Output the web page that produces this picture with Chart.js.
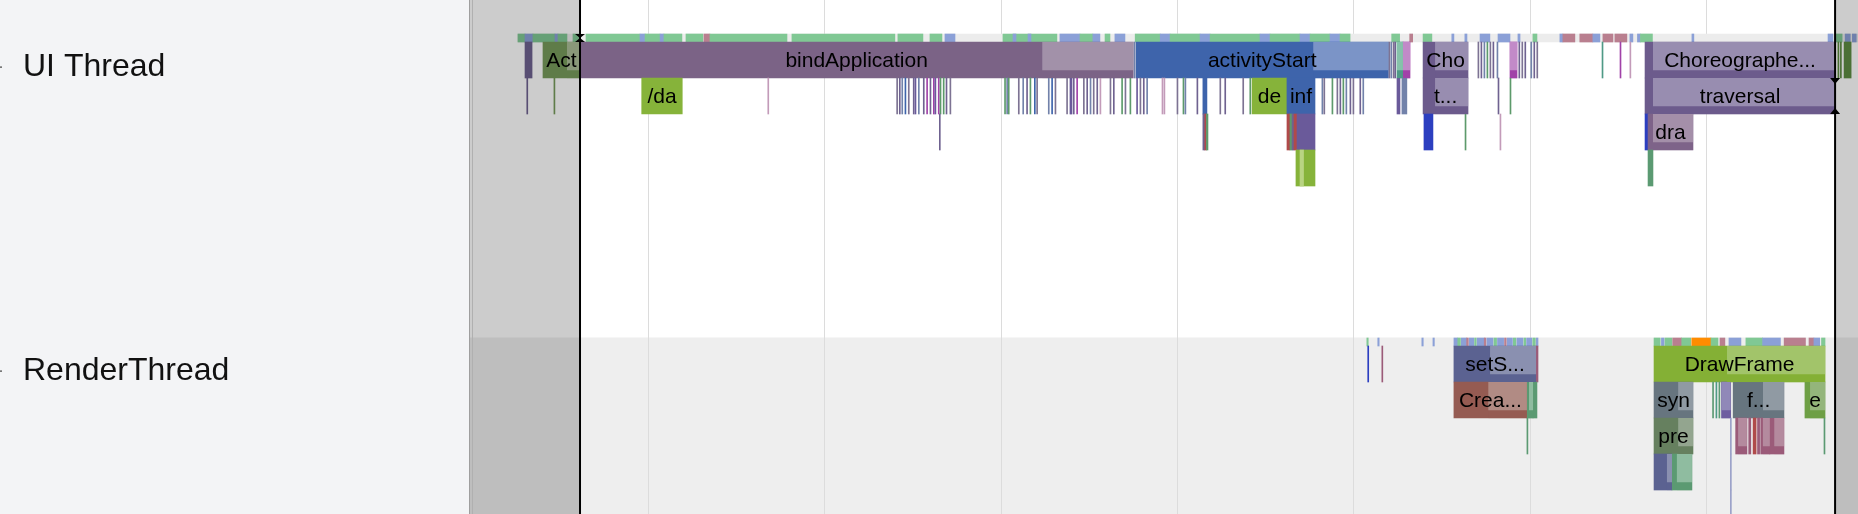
<!DOCTYPE html>
<html>
<head>
<meta charset="utf-8">
<script src="https://cdn.jsdelivr.net/npm/chart.js@4.4.1/dist/chart.umd.min.js"></script>
<style>
html,body{margin:0;padding:0;background:#ffffff;}
#wrap{width:1858px;height:514px;position:relative;}
</style>
</head>
<body>
<div id="wrap"><canvas id="c"></canvas></div>
<script>
// ---------------- DATA (time units; one grid step = 100) ----------------
const trackNames = ['UI Thread', 'RenderThread'];
const gridTimes = [0, 100, 200, 300, 400, 500, 600, 700];
const timeRange = [-1.3, 786.0];
const selection = [61.1, 773.0];

// scheduling strip of each thread: [start, end, colourKey]
const uiStrip = [
  [25.9, 786.0, 'sg'],
  [25.9, 29.9, 'g'], [29.9, 34.4, 'b'], [34.4, 46.9, 'g'], [46.9, 48.6, 'b'], [48.6, 53.7, 'g'], [57.1, 60.5, 'g'],
  [64.5, 95.1, 'g'], [95.1, 98.0, 'b'], [98.0, 106.5, 'g'], [106.5, 108.7, 'b'], [108.7, 118.9, 'g'],
  [121.2, 130.8, 'g'], [131.4, 134.8, 'p'], [134.8, 178.5, 'g'],
  [181.3, 239.7, 'g'], [241.4, 255.6, 'g'], [259.6, 266.4, 'g'], [268.1, 273.8, 'b'],
  [301.0, 331.6, 'g'], [306.7, 308.4, 'b'], [315.2, 316.9, 'b'], [333.3, 344.7, 'b'], [344.7, 352.0, 'g'],
  [352.0, 356.0, 'b'], [358.9, 361.7, 'g'], [364.5, 370.2, 'b'],
  [376.0, 390.2, 'g'], [390.2, 395.8, 'b'], [395.8, 412.8, 'g'], [412.8, 418.5, 'b'], [418.5, 446.8, 'g'],
  [446.8, 452.5, 'b'], [452.5, 469.5, 'g'], [469.5, 475.2, 'b'], [475.2, 486.5, 'g'], [486.5, 492.2, 'b'], [492.2, 497.9, 'g'],
  [521.5, 526.0, 'g'], [531.7, 533.4, 'p'], [539.3, 544.3, 'g'], [555.6, 556.8, 'b'], [563.0, 564.2, 'b'],
  [571.6, 577.2, 'b'], [581.8, 588.6, 'b'], [593.1, 594.3, 'b'], [601.6, 603.9, 'g'],
  [616.9, 618.6, 'b'], [618.6, 625.4, 'p'], [628.2, 635.6, 'p'], [635.6, 639.6, 'b'], [641.3, 647.0, 'p'],
  [648.1, 654.9, 'p'], [656.6, 658.3, 'b'], [660.9, 662.6, 'b'], [662.6, 669.4, 'g'], [691.8, 692.9, 'b'],
  [769.0, 771.8, 'b'], [773.0, 777.0, 'g'], [778.7, 781.6, 'b'], [782.8, 785.0, 'b']
];
const rtStrip = [
  [507.4, 508.2, 'g'], [513.6, 514.4, 'b'], [538.6, 539.4, 'b'], [544.9, 545.7, 'b'],
  [556.8, 559.0, 'b'], [559.0, 560.5, 'g'], [561.0, 564.0, 'b'], [564.0, 565.0, 'p'], [565.5, 568.0, 'b'],
  [568.5, 569.5, 'g'], [570.0, 574.0, 'b'], [574.0, 575.0, 'p'], [575.5, 579.0, 'b'], [579.5, 581.0, 'g'],
  [581.5, 585.0, 'b'], [585.5, 586.5, 'p'], [587.0, 590.0, 'b'], [590.5, 592.0, 'g'], [592.5, 596.0, 'b'],
  [596.5, 597.5, 'g'], [598.0, 601.0, 'b'], [601.5, 603.0, 'g'], [603.5, 604.5, 'b'],
  [670.3, 673.8, 'g'], [674.5, 676.0, 'b'], [676.5, 680.5, 'g'], [680.9, 686.0, 'p'], [686.0, 691.1, 'g'],
  [691.7, 702.6, 'o'], [702.6, 706.6, 'g'], [707.7, 710.5, 'p'], [712.8, 719.6, 'b'], [722.4, 731.9, 'g'],
  [731.9, 742.0, 'b'], [744.1, 756.2, 'p'], [758.2, 761.0, 'p'], [761.0, 764.3, 'b'], [765.3, 767.3, 'g']
];

// slices: [start, end, depth, colourKey, lightFrom (or null), label]
const uiSlices = [
  [29.9, 33.9, 0, 'pu', null, ''],
  [40.1, 61.1, 0, 'act', 53.7, 'Act'],
  [61.1, 374.9, 0, 'bind', 323.3, 'bindApplication'],
  [376.5, 519.6, 0, 'blue', 477.0, 'activityStart'],
  [524.5, 527.9, 0, 'teal', 524.5, ''],
  [527.9, 531.9, 0, 'mag', 527.9, ''],
  [539.3, 564.8, 0, 'chor', 546.1, 'Cho'],
  [588.6, 592.6, 0, 'mag', 588.6, ''],
  [665.2, 773.0, 0, 'chor', 669.7, 'Choreographe...'],
  [778.1, 782.1, 0, 'dgreen', null, ''],
  [96.1, 119.1, 1, 'lime', null, '/da'],
  [414.4, 416.7, 1, 'blue', null, ''],
  [442.3, 462.1, 1, 'lime', null, 'de'],
  [462.1, 478.0, 1, 'blue', null, 'inf'],
  [524.5, 526.2, 1, 'violet', null, ''],
  [527.3, 530.1, 1, 'gblue', null, ''],
  [539.3, 564.8, 1, 'chor', 546.1, 't...'],
  [665.2, 773.0, 1, 'chor', 669.7, 'traversal'],
  [414.4, 415.5, 2, 'pu', null, ''],
  [415.5, 416.4, 2, 'red', null, ''],
  [416.4, 417.3, 2, 'green', null, ''],
  [462.1, 463.8, 2, 'red', null, ''],
  [463.8, 465.0, 2, 'green', null, ''],
  [465.0, 466.1, 2, 'pu', null, ''],
  [466.1, 467.8, 2, 'red', null, ''],
  [467.8, 478.0, 2, 'violet', null, ''],
  [539.8, 544.9, 2, 'bblue', null, ''],
  [665.2, 666.9, 2, 'bblue', null, ''],
  [666.9, 692.4, 2, 'dra', 669.7, 'dra'],
  [467.2, 478.0, 3, 'lime', null, ''],
  [469.5, 471.5, 3, 'limeL', null, ''],
  [666.9, 669.7, 3, 'sgreen', null, '']
];
const rtSlices = [
  [556.8, 603.4, 0, 'sets', 577.3, 'setS...'],
  [603.4, 604.5, 0, 'rose', null, ''],
  [670.3, 767.3, 0, 'draw', 711.7, 'DrawFrame'],
  [556.8, 598.2, 1, 'crea', 576.3, 'Crea...'],
  [598.2, 599.4, 1, 'sgreen', null, ''],
  [599.4, 601.7, 1, 'sgreen', 599.4, ''],
  [601.7, 603.9, 1, 'sgreen', null, ''],
  [670.3, 692.4, 1, 'syn', 684.0, 'syn'],
  [708.6, 713.8, 1, 'violet2', 708.6, ''],
  [715.2, 744.0, 1, 'syn', 732.1, 'f...'],
  [755.9, 767.3, 1, 'egreen', 758.8, 'e'],
  [670.3, 692.4, 2, 'pre', 684.0, 'pre'],
  [716.6, 723.0, 2, 'rose', 718.0, ''],
  [724.0, 725.2, 2, 'rose', null, ''],
  [726.5, 728.2, 2, 'red', null, ''],
  [729.0, 730.2, 2, 'rose', null, ''],
  [730.8, 736.0, 2, 'rose', 732.0, ''],
  [736.0, 744.0, 2, 'rose', 738.5, ''],
  [670.3, 680.5, 3, 'sets', 677.6, ''],
  [680.5, 691.8, 3, 'sgreen', 683.2, '']
];

// very short slices: [time, depth, colourKey]
const uiThin = [
  [375.4, 0, 'gblue'], [519.9, 0, 'gpurple'], [521.0, 0, 'gblue'], [522.3, 0, 'gpurple'], [523.2, 0, 'pu'],
  [570.4, 0, 'gpurple'], [572.1, 0, 'pu'], [573.8, 0, 'gblue'], [575.5, 0, 'green'], [577.2, 0, 'gpurple'],
  [578.9, 0, 'pu'], [581.2, 0, 'gblue'], [593.6, 0, 'pu'], [595.3, 0, 'gpurple'], [597.0, 0, 'pu'],
  [600.4, 0, 'gblue'], [602.1, 0, 'pu'], [603.8, 0, 'gpurple'], [640.8, 0, 'teal'], [651.0, 0, 'mag'],
  [656.6, 0, 'pink'], [774.6, 0, 'dgreen'], [776.0, 0, 'dgreen'],
  [30.9, 1, 'pu'], [46.3, 1, 'act'], [167.6, 1, 'pink'],
  [240.7, 1, 'gpurple'], [242.2, 1, 'pu'], [243.6, 1, 'gblue'], [245.4, 1, 'blue'], [247.3, 1, 'gpurple'],
  [250.1, 1, 'pu'], [251.1, 1, 'violet'], [253.0, 1, 'gblue'], [255.8, 1, 'pu'], [257.7, 1, 'mag'],
  [259.6, 1, 'pu'], [261.5, 1, 'mag'], [262.4, 1, 'violet'], [264.3, 1, 'mag'], [265.3, 1, 'green'],
  [267.1, 1, 'green'], [268.7, 1, 'pu'], [270.9, 1, 'gpurple'],
  [301.9, 1, 'green'], [303.1, 1, 'gblue'], [304.0, 1, 'green'], [309.7, 1, 'gpurple'], [312.2, 1, 'gblue'],
  [314.4, 1, 'pu'], [316.3, 1, 'green'], [318.8, 1, 'blue'], [320.1, 1, 'gpurple'], [326.7, 1, 'gblue'],
  [328.6, 1, 'blue'], [330.5, 1, 'gpurple'], [337.1, 1, 'gpurple'], [339.0, 1, 'violet'], [339.6, 1, 'violet'],
  [340.9, 1, 'pu'], [342.8, 1, 'mag'], [346.6, 1, 'gpurple'], [348.5, 1, 'pu'], [350.4, 1, 'gblue'],
  [352.2, 1, 'gpurple'], [354.2, 1, 'pu'], [356.0, 1, 'pink'], [361.7, 1, 'gpurple'], [363.6, 1, 'pu'],
  [368.3, 1, 'green'], [370.2, 1, 'gpurple'], [373.0, 1, 'green'], [376.8, 1, 'violet'], [378.7, 1, 'gpurple'],
  [380.6, 1, 'pu'], [382.5, 1, 'gblue'],
  [391.2, 1, 'pink'], [392.3, 1, 'pink'], [399.7, 1, 'gpurple'], [403.1, 1, 'green'], [404.2, 1, 'gblue'],
  [411.0, 1, 'pu'], [424.0, 1, 'gpurple'], [426.8, 1, 'pu'], [437.0, 1, 'gpurple'], [441.0, 1, 'green'],
  [481.9, 1, 'gblue'], [483.0, 1, 'gpurple'], [487.6, 1, 'green'], [490.4, 1, 'gpurple'], [492.1, 1, 'pu'],
  [493.8, 1, 'green'], [495.5, 1, 'gblue'], [497.8, 1, 'pu'], [499.5, 1, 'gpurple'], [503.4, 1, 'pu'],
  [505.1, 1, 'gblue'], [581.8, 1, 'pu'], [588.6, 1, 'green'],
  [264.9, 2, 'pu'], [563.1, 2, 'green'], [582.9, 2, 'pink']
];
const rtThin = [
  [507.9, 0, 'bblue'], [515.9, 0, 'rose'],
  [703.5, 1, 'sgreen'], [705.4, 1, 'teal'], [707.1, 1, 'sgreen'],
  [598.2, 2, 'sgreen'], [713.6, 2, 'lblue'], [766.7, 2, 'sgreen'],
  [713.6, 3, 'lblue'], [713.6, 4, 'lblue']
];

// ---------------- STYLE ----------------
const palette = {
  sg: ['#ececec'], g: ['#80c894'], b: ['#8ba0d7'], p: ['#b97f8f'], o: ['#ff8c00'],
  bind: ['#7b6386', '#a291a9'], act: ['#779b5c', '#acbf98'], blue: ['#3e64ab', '#7b94c7'],
  lime: ['#86b33a'], limeL: ['#b8d482'], chor: ['#6c5b8c', '#988db0'], dra: ['#7e6389', '#a48fa9'],
  pu: ['#6f6290'], mag: ['#a142a8', '#c28ac8'], teal: ['#4f9a86', '#86c2aa'], bblue: ['#2c3fc0'],
  red: ['#b04a4a'], green: ['#5d9a6b'], violet: ['#6a5a9a'], violet2: ['#6e5ea0', '#9088b8'],
  pink: ['#c39bb9'], gpurple: ['#7d7393'], gblue: ['#7282aa'], dgreen: ['#5e8c43'],
  sets: ['#5b6291', '#8a90b0'], crea: ['#955b52', '#b18b84'], draw: ['#84b035', '#a2c46a'],
  syn: ['#67757f', '#909aa3'], egreen: ['#6e9f45', '#94b57b'], pre: ['#66805f', '#93a58f'],
  sgreen: ['#5b9a72', '#8fbca0'], rose: ['#9b5b79', '#b48a9e'], lblue: ['#9aa0c8']
};
const S = {
  font: '"Liberation Sans", Arial, sans-serif',
  rowH: 36, stripH: 8, band: 8, thin: 0.55,
  yMax: 514, trackTop: [34, 338], labelDy: 33,
  panelW: 470, padL: 23, trackFont: 32, sliceFont: 21,
  panelBg: '#f3f4f6', uiBg: '#ffffff', rtBg: '#eeeeee', grid: '#dcdcdc'
};
const stripY = tr => S.trackTop[tr] + S.stripH / 2;
const rowY = (tr, d) => S.trackTop[tr] + S.stripH + d * S.rowH + S.rowH / 2;
const labelY = trackNames.map((n, tr) => S.trackTop[tr] + S.labelDy);

const tracks = [
  {strip: uiStrip, slices: uiSlices, thin: uiThin},
  {strip: rtStrip, slices: rtSlices, thin: rtThin}
];
const stripData = [], baseData = [], lightData = [];
tracks.forEach((tk, tr) => {
  tk.strip.forEach(([s, e, c]) => stripData.push({x: [s, e], y: stripY(tr), c: palette[c][0]}));
  tk.slices.forEach(([s, e, d, c, lf, label]) => {
    baseData.push({x: [s, e], y: rowY(tr, d), c: palette[c][0], label});
    if (lf !== null) lightData.push({x: [lf, e], y: rowY(tr, d), c: palette[c][1], b: palette[c][0]});
  });
  tk.thin.forEach(([t, d, c]) => baseData.push({x: [t, t + S.thin], y: rowY(tr, d), c: palette[c][0], label: ''}));
});

const col = key => ctx => (ctx.raw ? ctx.raw[key] : '#000');

const decor = {
  id: 'decor',
  beforeDraw(chart) {
    const {ctx, chartArea: a, scales: {y}} = chart;
    ctx.save();
    ctx.fillStyle = S.panelBg;
    ctx.fillRect(0, 0, a.left, chart.height);
    const split = y.getPixelForValue(S.trackTop[1] - 0.5);
    ctx.fillStyle = S.uiBg;
    ctx.fillRect(a.left, a.top, a.right - a.left, split - a.top);
    ctx.fillStyle = S.rtBg;
    ctx.fillRect(a.left, split, a.right - a.left, a.bottom - split);
    // collapsed-track chevron stubs at the far left edge
    ctx.fillStyle = '#444';
    labelY.forEach(v => ctx.fillRect(0, y.getPixelForValue(v) - 0.5, 2, 1.2));
    ctx.restore();
  },
  afterDatasetsDraw(chart) {
    const {ctx, chartArea: a, scales: {x, y}} = chart;
    // slice labels
    const meta = chart.getDatasetMeta(1);
    const ds = chart.data.datasets[1].data;
    ctx.save();
    ctx.font = S.sliceFont + 'px ' + S.font;
    ctx.fillStyle = '#000';
    ctx.textAlign = 'center';
    ctx.textBaseline = 'middle';
    meta.data.forEach((el, i) => {
      const raw = ds[i];
      if (!raw.label) return;
      const p = el.getProps(['x', 'base', 'y', 'height'], true);
      const l = Math.min(p.x, p.base), r = Math.max(p.x, p.base);
      ctx.save();
      ctx.beginPath();
      ctx.rect(l, p.y - p.height / 2, r - l, p.height);
      ctx.clip();
      ctx.fillText(raw.label, (l + r) / 2, p.y + 1);
      ctx.restore();
    });
    ctx.restore();

    // area outside the selected time range
    const s0 = x.getPixelForValue(selection[0]);
    const s1 = x.getPixelForValue(selection[1]);
    ctx.save();
    ctx.fillStyle = 'rgba(0,0,0,0.2)';
    ctx.fillRect(a.left, a.top, s0 - a.left, a.bottom - a.top);
    ctx.fillRect(s1, a.top, a.right - s1, a.bottom - a.top);
    ctx.fillStyle = '#000';
    ctx.fillRect(s0 - 1, a.top, 2, a.bottom - a.top);
    ctx.fillRect(s1 - 1, a.top, 2, a.bottom - a.top);
    // markers
    const st = y.getPixelForValue(S.trackTop[0]);
    const sb = y.getPixelForValue(S.trackTop[0] + S.stripH);
    const sm = (st + sb) / 2;
    ctx.beginPath();
    ctx.moveTo(s0 - 5, st); ctx.lineTo(s0 + 5, st); ctx.lineTo(s0, sm); ctx.closePath();
    ctx.moveTo(s0 - 5, sb); ctx.lineTo(s0 + 5, sb); ctx.lineTo(s0, sm); ctx.closePath();
    ctx.fill();
    const r1t = y.getPixelForValue(rowY(0, 1) - S.rowH / 2);
    const r1b = y.getPixelForValue(rowY(0, 1) + S.rowH / 2);
    ctx.beginPath();
    ctx.moveTo(s1 - 5, r1t); ctx.lineTo(s1 + 5, r1t); ctx.lineTo(s1, r1t + 6); ctx.closePath();
    ctx.moveTo(s1 - 5, r1b); ctx.lineTo(s1 + 5, r1b); ctx.lineTo(s1, r1b - 6); ctx.closePath();
    ctx.fill();
    // panel edge
    ctx.fillStyle = '#9e9e9e';
    ctx.fillRect(a.left - 1, 0, 1, chart.height);
    ctx.restore();
  }
};

new Chart(document.getElementById('c'), {
  type: 'bar',
  data: {
    datasets: [
      {data: stripData, barThickness: S.stripH, backgroundColor: col('c'), order: 2},
      {data: baseData, barThickness: S.rowH, backgroundColor: col('c'), order: 1},
      {data: lightData, barThickness: S.rowH, backgroundColor: col('c'), borderColor: col('b'),
       borderWidth: {top: 0, right: 0, bottom: S.band, left: 0}, borderSkipped: false, order: 0}
    ]
  },
  options: {
    indexAxis: 'y',
    responsive: true,
    maintainAspectRatio: false,
    animation: false,
    devicePixelRatio: 1,
    events: [],
    layout: {padding: {left: S.padL, right: 0, top: 0, bottom: 0}},
    datasets: {bar: {grouped: false, minBarLength: 1, borderWidth: 0, borderSkipped: false}},
    plugins: {legend: {display: false}, tooltip: {enabled: false}},
    scales: {
      x: {
        type: 'linear', min: timeRange[0], max: timeRange[1],
        grid: {color: S.grid, lineWidth: 1, drawTicks: false},
        border: {display: false},
        ticks: {display: false},
        afterBuildTicks: s => { s.ticks = gridTimes.map(v => ({value: v})); },
        afterFit: s => { s.height = 0; s.paddingLeft = 0; s.paddingRight = 0; }
      },
      y: {
        type: 'linear', reverse: true, min: 0, max: S.yMax, offset: false,
        grid: {display: false, drawTicks: false, offset: false},
        border: {display: false},
        ticks: {
          crossAlign: 'far', padding: 0, autoSkip: false, color: '#111111',
          font: {family: S.font, size: S.trackFont},
          callback: (v, i) => trackNames[i]
        },
        afterBuildTicks: s => { s.ticks = labelY.map(v => ({value: v})); },
        afterFit: s => { s.width = S.panelW - S.padL; s.paddingTop = 0; s.paddingBottom = 0; }
      }
    }
  },
  plugins: [decor]
});
</script>
</body>
</html>
